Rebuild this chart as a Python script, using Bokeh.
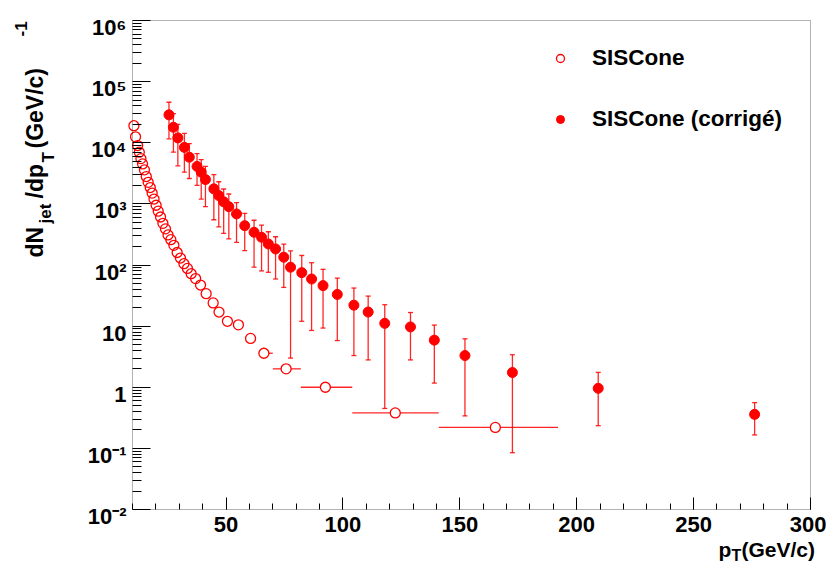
import math
from bokeh.plotting import figure
from bokeh.models import (ColumnDataSource, Whisker, TeeHead, FixedTicker, CustomJSTickFormatter,
                          Label, Legend, LegendItem, Range1d, BoxAnnotation, LogAxis, LogScale)
from bokeh.embed import file_html
from bokeh.resources import INLINE

# ---- data ----
# SISCone (raw), open circles
raw_pt = [10.6, 11.3, 12.2, 12.9, 13.6, 14.3, 15.1, 15.9, 16.7, 17.6,
          18.4, 19.2, 20.1, 21.0, 22.0, 23.0, 24.1, 25.2, 26.4, 27.7,
          29.1, 30.5, 32.0, 33.5, 35.1, 37.0, 39.1, 41.5, 44.5, 47.0,
          50.6, 55.3, 60.5, 66.2, 75.7, 92.5, 122.4, 165.2]
raw_val = [19000, 12500, 9000, 7000, 5500, 4500, 3600, 2800, 2250, 1850,
           1500, 1200, 950, 760, 610, 480, 390, 310, 260, 210,
           160, 130, 105, 88, 72, 60, 47, 34, 24, 17,
           12, 10.5, 6.3, 3.6, 2.0, 1.0, 0.38, 0.22]
# bin edges of the last (wide) bins, shown as horizontal error bars
raw_bin_lo = [64, 70, 82, 104, 141]
raw_bin_hi = [70, 82, 104, 141, 192]

# SISCone (corrige), filled circles with vertical error bars
corr_pt = [25.6, 27.5, 29.4, 32.2, 34.3, 37.6, 39.4, 41.2, 44.8, 46.9,
           49.0, 51.2, 54.5, 58.0, 62.0, 65.2, 68.1, 71.2, 74.7, 77.6,
           82.4, 86.6, 91.5, 97.6, 104.7, 110.8, 117.9, 128.9, 139.1, 152.2,
           172.5, 209.2, 276.1]
corr_val = [28600, 17900, 12000, 8400, 5800, 4100, 3300, 2500, 1760, 1370,
            1080, 900, 685, 440, 343, 284, 221, 183, 134, 92,
            75, 59, 46, 33, 22, 17, 11.1, 9.7, 5.9, 3.3,
            1.74, 0.96, 0.36]
corr_lo = [11600, 7000, 4200, 3300, 2600, 2000, 1200, 900, 550, 420,
           330, 267, 235, 172, 92, 80, 76, 59, 43, 3.0,
           12, 8.5, 9.3, 5.8, 3.3, 2.8, 0.45, 2.8, 1.17, 0.34,
           0.085, 0.235, 0.166]
corr_hi = [46000, 30000, 20000, 14200, 9700, 6650, 5300, 4100, 3000, 2300,
           1750, 1450, 1050, 700, 540, 450, 350, 290, 220, 170,
           143, 109, 85, 61, 42, 31, 22.4, 16.7, 10.4, 6.2,
           3.4, 1.75, 0.56]

# axis limits and ticks
X_MIN, X_MAX = 10, 300
Y_MIN, Y_MAX = 1e-2, 1e6
x_major = [50, 100, 150, 200, 250, 300]
x_minor = list(range(10, 301, 10))
y_major = [10.0 ** n for n in range(-2, 7)]
y_minor = [k * 10.0 ** n for n in range(-2, 6) for k in range(2, 10)]

legend_labels = ["SISCone", "SISCone (corrigé)"]

FONT = "Liberation Sans"
RED = "#ff0000"

# ---- layout: the frame fills the whole canvas; the axes box sits inside it ----
W, H = 826, 563
BOX_L, BOX_R = 132, 810          # box edges in canvas px
BOX_T, BOX_B = 20, 509
kx = (X_MAX - X_MIN) / (BOX_R - BOX_L)
ky = (math.log10(Y_MAX) - math.log10(Y_MIN)) / (BOX_B - BOX_T)
x_range = Range1d(X_MIN - BOX_L * kx, X_MAX + (W - BOX_R) * kx)
y_lo = math.log10(Y_MIN) - (H - BOX_B) * ky
y_hi = math.log10(Y_MAX) + BOX_T * ky
y_range = Range1d(10 ** y_lo, 10 ** y_hi)
LABEL_DROP = 7   # px: y tick labels sit slightly below their tick, as in ROOT
label_range = Range1d(10 ** (y_lo + LABEL_DROP * ky), 10 ** (y_hi + LABEL_DROP * ky))

p = figure(width=W, height=H, output_backend="svg", toolbar_location=None,
           y_axis_type="log", x_range=x_range, y_range=y_range,
           min_border=0, title=None)
p.extra_y_ranges = {"ylab": label_range}
p.extra_y_scales = {"ylab": LogScale()}
p.background_fill_color = "white"
p.border_fill_color = "white"
p.outline_line_color = None
p.xgrid.visible = False
p.ygrid.visible = False

p.add_layout(BoxAnnotation(left=X_MIN, right=X_MAX, bottom=Y_MIN, top=Y_MAX,
                           fill_alpha=0, line_color="black", line_width=1, level="guide"))

# axes, pinned to the box edges
p.xaxis.fixed_location = Y_MIN
p.yaxis.fixed_location = X_MIN
p.xaxis.ticker = FixedTicker(ticks=x_major, minor_ticks=x_minor)
p.yaxis.ticker = FixedTicker(ticks=y_major, minor_ticks=y_minor)
p.yaxis.formatter = CustomJSTickFormatter(code="return '';")
for ax in (p.xaxis[0], p.yaxis[0]):
    ax.axis_line_color = None
    ax.major_tick_line_color = "black"
    ax.minor_tick_line_color = "black"
    ax.major_tick_out = 0
    ax.minor_tick_out = 0
    ax.major_label_text_font = FONT
    ax.major_label_text_font_style = "bold"
    ax.major_label_text_font_size = "22px"
    ax.major_label_text_color = "black"
p.xaxis.major_tick_in = 12
p.xaxis.minor_tick_in = 6
p.xaxis.major_label_standoff = 7
p.yaxis.major_tick_in = 18
p.yaxis.minor_tick_in = 9

# y tick labels (drawn by a tick-less twin axis on the shifted label range)
ylab_axis = LogAxis(y_range_name="ylab", fixed_location=X_MIN,
                    ticker=FixedTicker(ticks=y_major, minor_ticks=[]),
                    formatter=CustomJSTickFormatter(code="""
const e = Math.round(Math.log10(tick));
if (e === 0) return "1";
if (e === 1) return "10";
const sup = {"-":"\\u207b","0":"\\u2070","1":"\\u00b9","2":"\\u00b2","3":"\\u00b3",
             "4":"\\u2074","5":"\\u2075","6":"\\u2076","7":"\\u2077","8":"\\u2078","9":"\\u2079"};
return "10" + String(e).split("").map(c => sup[c]).join("");
"""),
                    axis_line_color=None, major_tick_line_color=None, minor_tick_line_color=None,
                    major_tick_in=0, major_tick_out=0, minor_tick_in=0, minor_tick_out=0,
                    major_label_standoff=6,
                    major_label_text_font=FONT, major_label_text_font_style="bold",
                    major_label_text_font_size="22px", major_label_text_color="black")
p.add_layout(ylab_axis, "left")

# raw: horizontal bars for the wide bins
n_bar = len(raw_bin_lo)
src_hbar = ColumnDataSource(dict(y=raw_val[-n_bar:], lo=raw_bin_lo, hi=raw_bin_hi))
p.add_layout(Whisker(source=src_hbar, base="y", lower="lo", upper="hi", dimension="width",
                     line_color=RED, line_width=1.3, line_alpha=0.85,
                     upper_head=None, lower_head=None))

# corrected: vertical error bars
src_corr = ColumnDataSource(dict(x=corr_pt, y=corr_val, lo=corr_lo, hi=corr_hi))
p.add_layout(Whisker(source=src_corr, base="x", lower="lo", upper="hi", dimension="height",
                     line_color=RED, line_width=1.3, line_alpha=0.85,
                     upper_head=TeeHead(size=5, line_color=RED, line_width=1.3, line_alpha=0.85),
                     lower_head=TeeHead(size=5, line_color=RED, line_width=1.3, line_alpha=0.85)))

src_raw_a = ColumnDataSource(dict(x=raw_pt[:-n_bar], y=raw_val[:-n_bar]))
src_raw_b = ColumnDataSource(dict(x=raw_pt[-n_bar:], y=raw_val[-n_bar:]))
r_raw = p.scatter("x", "y", source=src_raw_a, marker="circle", size=10,
                  fill_color=None, line_color=RED, line_width=1.3)
p.scatter("x", "y", source=src_raw_b, marker="circle", size=10,
          fill_color="white", line_color=RED, line_width=1.3)
r_corr = p.scatter("x", "y", source=src_corr, marker="circle", size=10,
                   fill_color=RED, line_color=RED, line_width=1)

legend = Legend(items=[LegendItem(label=legend_labels[0], renderers=[r_raw]),
                       LegendItem(label=legend_labels[1], renderers=[r_corr])],
                location=(550, 429), orientation="vertical",
                border_line_alpha=0, background_fill_alpha=0,
                padding=0, margin=0, spacing=31,
                glyph_width=20, glyph_height=30, label_height=30,
                label_standoff=22,
                label_text_font=FONT, label_text_font_style="bold",
                label_text_font_size="22.5px", label_text_color="black",
                label_text_baseline="middle")
p.add_layout(legend)

# ---- axis titles built from pieces (for sub/superscripts) ----
def piece(text, px, py, size, angle=0.0):
    p.add_layout(Label(x=px, y=H - py, x_units="screen", y_units="screen",
                       text=text, angle=angle, text_align="left", text_baseline="alphabetic",
                       text_font=FONT, text_font_style="bold",
                       text_font_size=f"{size}px", text_color="black"))

V = math.pi / 2
piece("dN", 34, 257, 23, V)
piece("jet", 45, 223, 17, V)
piece("/dp", 34, 198, 23, V)
piece("T", 48, 162, 17, V)
piece("(GeV/c)", 34, 148, 23, V)
piece("-1", 20, 36, 17, V)

piece("p", 718, 549, 21)
piece("T", 731, 555, 16)
piece("(GeV/c)", 741, 549, 21)

open("out.html", "w").write(file_html(p, INLINE))
